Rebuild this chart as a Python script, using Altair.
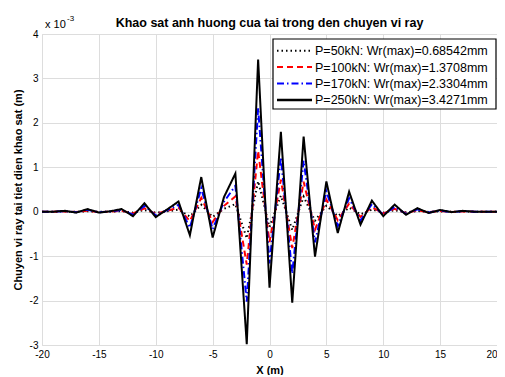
import altair as alt
import pandas as pd

# x positions (m)
x_pos = list(range(-20, 21))

# displacement values in units of 1e-3 m
w_50 = [0, 0, 0.004, -0.004, 0.012, -0.004, 0.002, 0.012, -0.02, 0.038, -0.024, 0.01, 0.046,
        -0.106, 0.156, -0.116, 0.066, 0.172, -0.596, 0.68542, -0.342, 0.36, -0.41, 0.338,
        -0.202, 0.136, -0.096, 0.09, -0.058, 0.05, -0.02, 0.032, -0.014, 0.016, -0.006,
        0.008, -0.002, 0.004, 0, 0, 0]
w_100 = [0, 0, 0.008, -0.008, 0.024, -0.008, 0.004, 0.024, -0.04, 0.076, -0.048, 0.02, 0.092,
         -0.212, 0.312, -0.232, 0.132, 0.344, -1.192, 1.3708, -0.684, 0.72, -0.82, 0.676,
         -0.404, 0.272, -0.192, 0.18, -0.116, 0.1, -0.04, 0.064, -0.028, 0.032, -0.012,
         0.016, -0.004, 0.008, 0, 0, 0]
w_170 = [0, 0, 0.014, -0.014, 0.041, -0.014, 0.007, 0.041, -0.068, 0.129, -0.082, 0.034, 0.156,
         -0.36, 0.53, -0.394, 0.224, 0.585, -2.026, 2.3304, -1.163, 1.224, -1.394, 1.149,
         -0.687, 0.462, -0.326, 0.306, -0.197, 0.17, -0.068, 0.109, -0.048, 0.054, -0.02,
         0.027, -0.007, 0.014, 0, 0, 0]
w_250 = [0, 0, 0.02, -0.02, 0.06, -0.02, 0.01, 0.06, -0.1, 0.19, -0.12, 0.05, 0.23,
         -0.53, 0.78, -0.58, 0.33, 0.86, -2.98, 3.4271, -1.71, 1.8, -2.05, 1.69,
         -1.01, 0.68, -0.48, 0.45, -0.29, 0.25, -0.1, 0.16, -0.07, 0.08, -0.03,
         0.04, -0.01, 0.02, 0, 0, 0]

labels = ["P=50kN: Wr(max)=0.68542mm",
          "P=100kN: Wr(max)=1.3708mm",
          "P=170kN: Wr(max)=2.3304mm",
          "P=250kN: Wr(max)=3.4271mm"]
colors = ["#000000", "#ff0000", "#0000ff", "#000000"]
dashes = [[1.5, 3], [6, 4], [7, 3, 1.5, 3], [1, 0]]
widths = [2, 2, 2, 2.5]

x_ticks = list(range(-20, 21, 5))
y_ticks = list(range(-3, 5))
title_text = ["Khao sat anh huong cua tai trong den chuyen vi ray"]
scale_text = ["x 10", "-3"]

rows = []
for lab, vals in zip(labels, [w_50, w_100, w_170, w_250]):
    for xv, yv in zip(x_pos, vals):
        rows.append({"x": xv, "y": yv, "series": lab})
df = pd.DataFrame(rows)

FONT = "Liberation Sans"
W, H = 455, 311

x_enc = alt.X("x:Q", scale=alt.Scale(domain=[-20, 20], nice=False, zero=False),
              axis=alt.Axis(values=x_ticks, labelExpr="'' + datum.value", title="X (m)",
                            grid=True, ticks=False, domain=False, labelPadding=4,
                            titlePadding=5, labelFlush=False,
                            labelAlign=alt.ExprRef(expr="datum.value == 20 ? 'right' : 'center'")))
y_enc = alt.Y("y:Q", scale=alt.Scale(domain=[-3, 4], nice=False),
              axis=alt.Axis(values=y_ticks, labelExpr="'' + datum.value",
                            title="Chuyen vi ray tai tiet dien khao sat (m)", grid=True,
                            ticks=False, domain=False, labelPadding=4, titlePadding=6))
color_enc = alt.Color("series:N", scale=alt.Scale(domain=labels, range=colors), legend=None)
dash_enc = alt.StrokeDash("series:N", scale=alt.Scale(domain=labels, range=dashes), legend=None)
width_enc = alt.StrokeWidth("series:N", scale=alt.Scale(domain=labels, range=widths), legend=None)

layers = []
for lab in labels:
    layers.append(
        alt.Chart(df).transform_filter(alt.datum.series == lab).mark_line(clip=True).encode(
            x=x_enc, y=y_enc, color=color_enc, strokeDash=dash_enc, strokeWidth=width_enc
        )
    )

# legend box (drawn as marks in pixel space of the plot area)
ldf = pd.DataFrame({"series": labels})
legend_box = alt.Chart(ldf).transform_filter(alt.datum.series == labels[0]).mark_rect(
    fill="white", stroke="black", strokeWidth=1.2
).encode(x=alt.value(231), x2=alt.value(454), y=alt.value(5), y2=alt.value(75))
layers_leg = [legend_box]
row_y = [16.7, 33.1, 49.5, 65.9]
for lab, col, dsh, wd, ry in zip(labels, colors, dashes, widths, row_y):
    one = alt.Chart(ldf).transform_filter(alt.datum.series == lab)
    layers_leg.append(one.mark_rule(color=col, strokeDash=dsh, strokeWidth=wd).encode(
        x=alt.value(235), x2=alt.value(270), y=alt.value(ry)))
    layers_leg.append(one.mark_text(align="left", baseline="middle", font=FONT,
                                    fontSize=12.5, color="black").encode(
        x=alt.value(273), y=alt.value(ry + 0.5), text="series:N"))

tdf = pd.DataFrame({"t": title_text})
title_txt = alt.Chart(tdf).mark_text(
    align="center", baseline="alphabetic", font=FONT, fontSize=12.5, fontWeight="bold"
).encode(x=alt.value(W / 2), y=alt.value(-7.5), text="t:N")

sdf = pd.DataFrame({"t": scale_text})
main_txt = alt.Chart(sdf).transform_filter(alt.datum.t == scale_text[0]).mark_text(
    align="left", baseline="alphabetic", font=FONT, fontSize=11
).encode(x=alt.value(3), y=alt.value(-6), text="t:N")
sup_txt = alt.Chart(sdf).transform_filter(alt.datum.t == scale_text[1]).mark_text(
    align="left", baseline="alphabetic", font=FONT, fontSize=8
).encode(x=alt.value(25), y=alt.value(-13), text="t:N")

chart = alt.layer(*layers, *layers_leg, title_txt, main_txt, sup_txt).properties(
    width=W, height=H,
    autosize=alt.AutoSizeParams(type="none"),
    padding={"left": 34, "top": 26, "right": 0, "bottom": 30},
).configure_view(stroke="black", strokeWidth=1.5).configure_axis(
    labelFont=FONT, labelFontSize=12, labelColor="black",
    titleFont=FONT, titleFontSize=12.5, titleFontWeight="bold", titleColor="black",
    gridColor="#444444", gridDash=[2, 3], gridWidth=1, gridOpacity=1
).configure(background="white")

chart.save("out.html", embed_options={"renderer": "svg", "actions": False})
